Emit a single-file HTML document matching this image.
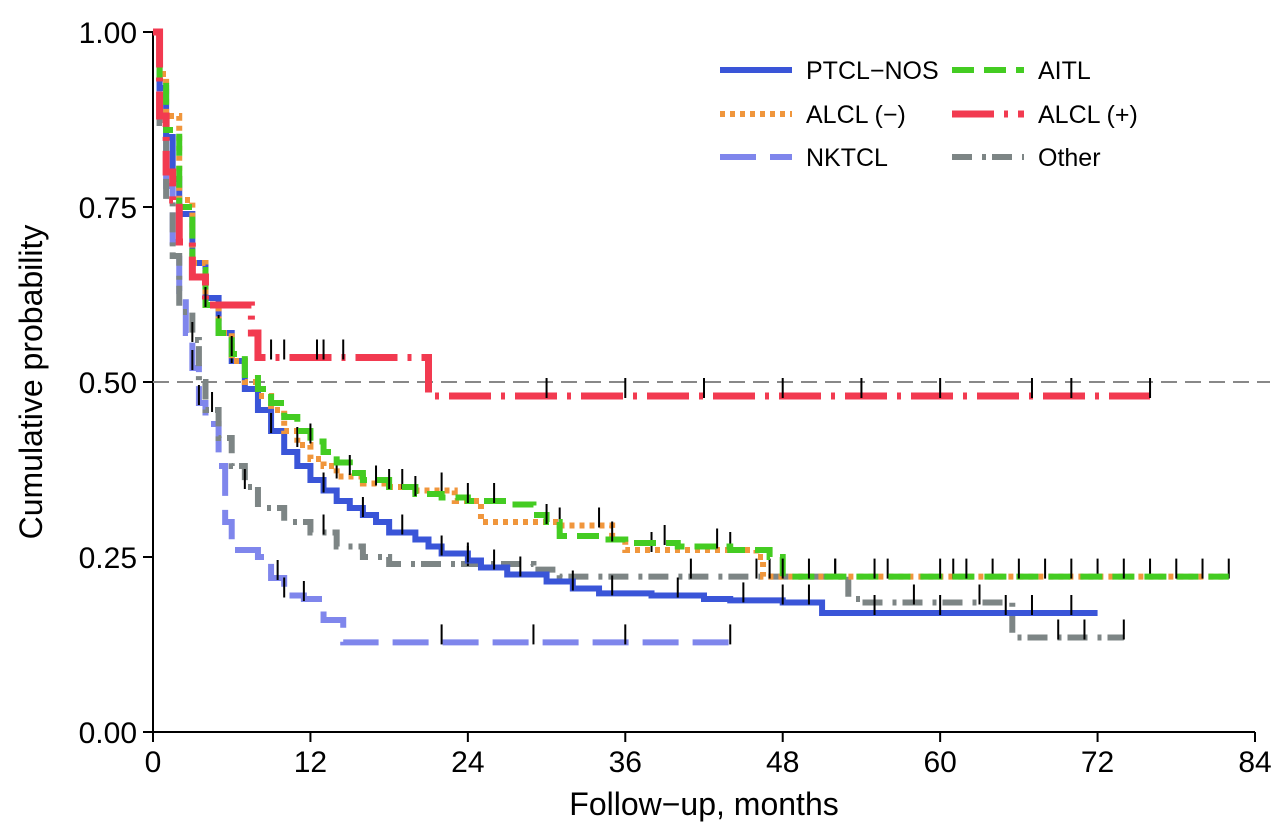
<!DOCTYPE html>
<html><head><meta charset="utf-8"><style>
html,body{margin:0;padding:0;background:#fff;}
svg{display:block;font-family:"Liberation Sans",Arial,sans-serif;}
</style></head><body>
<svg id="chart" width="1280" height="834" viewBox="0 0 1280 834">
<g id="axes"></g>
<g id="plot"></g>
<g id="legend"></g>
<text x="42" y="382" font-size="32" text-anchor="middle" transform="rotate(-90 42 382)">Cumulative probability</text>
<text x="704" y="815" font-size="32" text-anchor="middle">Follow−up, months</text>
</svg>
<script>
const xTicks=[0,12,24,36,48,60,72,84];
const yTicks=[0,0.25,0.5,0.75,1];
const yTickLabels=["0.00","0.25","0.50","0.75","1.00"];
const seriesNames=["PTCL−NOS","AITL","ALCL (−)","ALCL (+)","NKTCL","Other"];
const ptclT=[0,0.5,1,1.5,2,3,4,5,6,7,8,9,10,11,12,13,14,15,16,17,18,20,21,22,24,25,27,30,32,34,38,42,44,48,51,72];
const ptclS=[1,0.92,0.85,0.79,0.74,0.67,0.62,0.57,0.53,0.49,0.46,0.43,0.4,0.38,0.36,0.345,0.33,0.32,0.31,0.3,0.285,0.275,0.265,0.255,0.245,0.235,0.225,0.215,0.205,0.198,0.195,0.19,0.188,0.185,0.17,0.17];
const aitlT=[0,0.5,1,2,3,4,5,6,7,8,9,10,11,12,13,14,15,16,18,20,22,24,27,29,30,31,34,36,40,44,47,48,82];
const aitlS=[1,0.93,0.86,0.75,0.66,0.61,0.57,0.54,0.51,0.49,0.47,0.45,0.43,0.415,0.4,0.385,0.37,0.36,0.35,0.34,0.335,0.33,0.325,0.31,0.3,0.28,0.275,0.27,0.265,0.26,0.25,0.222,0.222];
const alclnT=[0,0.5,1,2,3,4,5,6,7,8,9,10,11,12,13,14,16,18,20,23,25,31,35,36,46,46.5,82];
const alclnS=[1,0.94,0.88,0.76,0.67,0.61,0.57,0.53,0.5,0.48,0.46,0.43,0.41,0.39,0.38,0.365,0.355,0.35,0.345,0.33,0.3,0.295,0.275,0.26,0.25,0.222,0.222];
const alclpT=[0,0.5,1,1.5,2,3,4,7.5,8,21,76];
const alclpS=[1,0.88,0.8,0.76,0.7,0.65,0.61,0.57,0.535,0.48,0.48];
const nktT=[0,0.5,1,1.5,2,2.5,3,3.5,4,5,5.5,6,8,9,10,11.5,13,14.5,44];
const nktS=[1,0.88,0.78,0.7,0.63,0.57,0.52,0.47,0.44,0.38,0.3,0.26,0.25,0.22,0.195,0.19,0.16,0.128,0.128];
const otherT=[0,0.5,1,1.5,2,3,3.5,4,5,6,7,8,10,12,14,16,18,22,29,31,53,54,65.5,74];
const otherS=[1,0.87,0.76,0.68,0.6,0.56,0.5,0.46,0.42,0.38,0.35,0.32,0.3,0.285,0.265,0.25,0.24,0.24,0.232,0.222,0.19,0.185,0.135,0.135];
const ptclC=[2,4,6,9,13,16,19,22,24,26,28,32,35,40,45,48,50,55,60,65,67,70];
const aitlC=[6,12,15,18,20,24,26,30,35,39,43,48,50,55,60,62,66,70,74,78];
const alclnC=[5,11,14,17,19,22,31,34,38,44,47,52,56,61,64,68,72,76,80,82];
const alclpC=[4,9,10,12.5,13,14.5,30,36,42,48,54,60,67,70,76];
const nktC=[3,3.5,9.5,10,11.5,22,29,36,44];
const otherC=[3,4.5,7,13,24,41,46,52,58,63,69,71,74];
const colors=["#3a55d8","#44cc22","#f0963c","#f23a50","#7f86ec","#7d8585"];
const dashes=["none","22 10","5 5","42 10 4 10","36 14","20 10 4 6"];
const widths=[6,6,6,7,6,6];
const X0=153,X1=1255,Y0=732,Y1=32;
const xs=m=>X0+(m/84)*(X1-X0);
const ys=p=>Y0-p*(Y0-Y1);
const NS="http://www.w3.org/2000/svg";
function mk(tag,attrs,parent){const e=document.createElementNS(NS,tag);for(const k in attrs)e.setAttribute(k,attrs[k]);parent.appendChild(e);return e;}
const axes=document.getElementById('axes'),plot=document.getElementById('plot'),leg=document.getElementById('legend');
const xa=mk('line',{x1:X0,y1:Y0,x2:X1,y2:Y0,stroke:'#000','stroke-width':2},axes);


const ya=mk('line',{x1:X0,y1:Y0,x2:X0,y2:Y1,stroke:'#000','stroke-width':2},axes);


xTicks.forEach(t=>{
 mk('line',{x1:xs(t),y1:Y0,x2:xs(t),y2:Y0+10,stroke:'#000','stroke-width':2},axes);
 const tx=mk('text',{x:xs(t),y:Y0+40,'font-size':30,'text-anchor':'middle'},axes);tx.textContent=t;
 
 
});
yTicks.forEach((t,i)=>{
 mk('line',{x1:X0-10,y1:ys(t),x2:X0,y2:ys(t),stroke:'#000','stroke-width':2},axes);
 const tx=mk('text',{x:X0-16,y:ys(t)+11,'font-size':30,'text-anchor':'end'},axes);tx.textContent=yTickLabels[i];
 
 
});
const ref=mk('line',{x1:X0,y1:ys(0.5),x2:1270,y2:ys(0.5),stroke:'#888','stroke-width':2,'stroke-dasharray':'16 8'},plot);


const T=[ptclT,aitlT,alclnT,alclpT,nktT,otherT],S=[ptclS,aitlS,alclnS,alclpS,nktS,otherS],C=[ptclC,aitlC,alclnC,alclpC,nktC,otherC];
function surv(i,m){let s=S[i][0];for(let k=0;k<T[i].length;k++){if(T[i][k]<=m)s=S[i][k];}return s;}
const order=[4,5,0,2,1,3];
order.forEach(i=>{
 let d='M'+xs(T[i][0])+','+ys(S[i][0]);
 for(let k=1;k<T[i].length;k++){d+=' H'+xs(T[i][k])+' V'+ys(S[i][k]);}
 const p=mk('path',{d:d,fill:'none',stroke:colors[i],'stroke-width':widths[i],'stroke-dasharray':dashes[i]},plot);
 
 
 C[i].forEach(c=>{
  const y=ys(surv(i,c));
  const l=mk('line',{x1:xs(c),y1:y-18,x2:xs(c),y2:y+2,stroke:'#000','stroke-width':2},plot);
  
  
 });
});
const legPos=[[720,70,0],[952,70,1],[720,114,2],[952,114,3],[720,157,4],[952,157,5]];
legPos.forEach(([x,y,i])=>{
 const l=mk('line',{x1:x,y1:y,x2:x+72,y2:y,stroke:colors[i],'stroke-width':widths[i],'stroke-dasharray':dashes[i]},leg);
 
 
 const t=mk('text',{x:x+86,y:y+9,'font-size':25},leg);t.textContent=seriesNames[i];
 
 
});
</script>
</body></html>
